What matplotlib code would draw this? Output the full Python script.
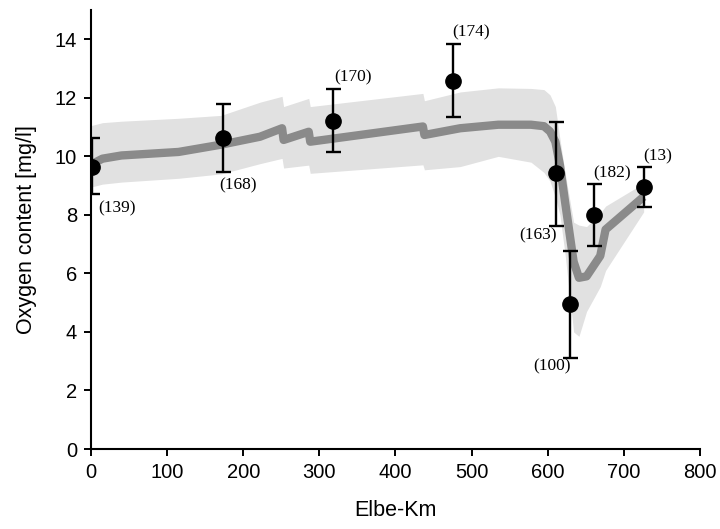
#!/usr/bin/env python3
import numpy as np
import matplotlib
matplotlib.use("Agg")
import matplotlib.pyplot as plt

# simulated oxygen profile along the river (km, mg/l) with uncertainty band
model_km = [0, 15, 40, 115, 171, 222, 251, 253, 286, 288, 436, 438, 485, 535, 578,
            595, 603, 610, 616, 623, 634, 641, 651, 669, 676, 726]
model_mean = [9.72, 9.92, 10.03, 10.15, 10.40, 10.67, 10.96, 10.56, 10.84, 10.50, 11.02,
              10.73, 10.96, 11.08, 11.08, 11.03, 10.85, 10.50, 9.70, 8.40, 6.40, 5.85,
              5.90, 6.60, 7.50, 8.62]
model_upper = [11.05, 11.15, 11.20, 11.30, 11.40, 11.85, 12.05, 11.70, 11.98, 11.70, 12.15,
               11.90, 12.20, 12.34, 12.32, 12.28, 12.10, 11.70, 10.60, 9.40, 7.75, 7.65,
               7.60, 8.06, 8.30, 9.08]
model_lower = [8.95, 9.05, 9.12, 9.25, 9.40, 9.75, 9.93, 9.60, 9.70, 9.42, 9.71,
               9.54, 9.65, 10.00, 9.80, 9.45, 9.15, 8.60, 8.00, 6.60, 4.00, 3.85,
               4.70, 5.55, 6.10, 8.10]

# measured stations: position, mean, whisker ends, number of samples
obs_km = [1, 173, 318, 475, 611, 629, 661, 726]
obs_mean = [9.64, 10.62, 11.22, 12.59, 9.42, 4.95, 8.00, 8.96]
obs_hi = [10.63, 11.78, 12.29, 13.83, 11.19, 6.77, 9.06, 9.65]
obs_lo = [8.71, 9.48, 10.15, 11.36, 7.63, 3.12, 6.94, 8.27]
obs_n = [139, 168, 170, 174, 163, 100, 182, 13]

# label offsets in points (left/right, below/above)
label_offsets = [(18, -30), (11, -34), (14, 31), (13, 35),
                 (-13, -45), (-13, -45), (13, 30), (10, 22)]

fig = plt.figure(figsize=(7.2, 5.29), dpi=100)
ax = fig.add_axes([0.1264, 0.1512, 0.8458, 0.8299])

ax.fill_between(model_km, model_lower, model_upper, color="#e1e1e1", linewidth=0, zorder=1)
ax.plot(model_km, model_mean, color="#8a8a8a", linewidth=6,
        solid_joinstyle="round", solid_capstyle="butt", zorder=2)

mean = np.asarray(obs_mean)
yerr = np.vstack([mean - np.asarray(obs_lo), np.asarray(obs_hi) - mean])
ax.errorbar(obs_km, obs_mean, yerr=yerr, fmt="o", color="black", markersize=11,
            elinewidth=1.7, capsize=5.4, capthick=1.7, zorder=3)

for x, y, n, (dx, dy) in zip(obs_km, obs_mean, obs_n, label_offsets):
    ax.annotate(f"({n})", (x, y), xytext=(dx, dy), textcoords="offset points",
                ha="center", va="center", fontsize=12.5, family="Liberation Serif")

ax.set_xlim(0, 800)
ax.set_ylim(0, 15)
ax.set_xticks(np.arange(0, 801, 100))
ax.set_yticks(np.arange(0, 15, 2))
ax.set_xlabel("Elbe-Km", fontsize=15.5, family="Liberation Sans", labelpad=13)
ax.set_ylabel("Oxygen content [mg/l]", fontsize=15.5, family="Liberation Sans", labelpad=13)
for lab in ax.get_xticklabels() + ax.get_yticklabels():
    lab.set_family("Liberation Sans")
    lab.set_fontsize(14.5)
ax.tick_params(direction="out", length=5, width=1.4, pad=5, colors="black")
ax.spines["top"].set_visible(False)
ax.spines["right"].set_visible(False)
for side in ["left", "bottom"]:
    ax.spines[side].set_linewidth(1.5)

fig.savefig("out.png", dpi=100)
